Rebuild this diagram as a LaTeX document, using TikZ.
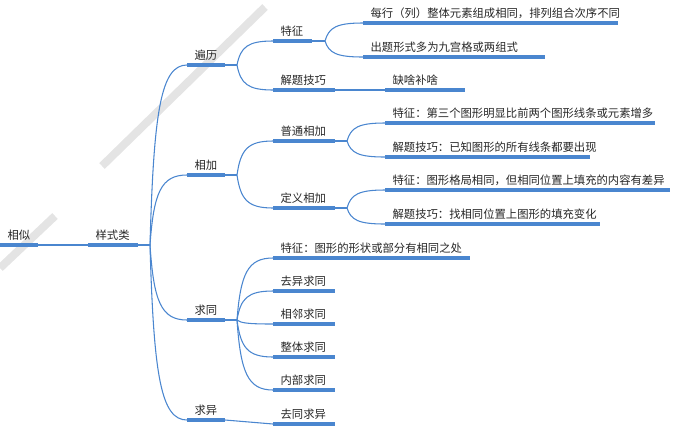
\documentclass[tikz,border=0pt]{standalone}
\usepackage{fontspec}
\setmainfont{Noto Sans CJK SC}
\usetikzlibrary{calc}
\definecolor{bl}{HTML}{4A86CF}
\definecolor{wm}{HTML}{E4E4E4}
\tikzset{thk/.style={bl,line width=2.4pt},thn/.style={bl,line width=0.8pt},lab/.style={anchor=south west,inner sep=1pt,font=\fontsize{8.5pt}{10pt}\selectfont,text=black!85}}
\newcommand\topic[5]{%
 \coordinate (#1s) at (#2,#4); \coordinate (#1e) at (#3,#4);
 \draw[thk] (#1s)--(#1e);
 \node[lab] (#1t) at ($(#1s)+(6,-3)$) {#5};}
\newcommand\fork[2]{\coordinate (#1f) at ($(#1e)+(#2,0)$); \draw[thn] (#1e)--(#1f);}
\newcommand\conn[2]{\draw[thn] let \p1=(#1), \p2=(#2) in (\p1) .. controls (\x1+0.1*\x2-0.1*\x1, \y1+0.75*\y2-0.75*\y1) and (\x1+0.3*\x2-0.3*\x1,\y2) .. (\p2);}
\begin{document}
\begin{tikzpicture}[x=0.75pt,y=-0.75pt]
\useasboundingbox (0,0) rectangle (673,433);
\draw[wm,line width=6pt] (0,268)--(55,216);
\draw[wm,line width=6pt] (102,166)--(265,7);
\topic{A}{0}{38}{245}{相似}
\topic{B}{88}{138}{245}{样式类}
\draw[thn] (Ae)--(Bs);
\fork{B}{12}
\topic{C}{187}{225}{65}{遍历}
\topic{D}{187}{225}{175}{相加}
\topic{E}{187}{225}{320}{求同}
\topic{F}{187}{225}{420}{求异}
\conn{Bf}{Cs}\conn{Bf}{Ds}\conn{Bf}{Es}\conn{Bf}{Fs}
\fork{C}{12}\fork{D}{12}\fork{E}{12}
\topic{C1}{273}{312}{41}{特征}
\topic{C2}{273}{335}{90}{解题技巧}
\conn{Cf}{C1s}\conn{Cf}{C2s}
\fork{C1}{13}
\topic{C11}{363}{618}{23}{每行（列）整体元素组成相同，排列组合次序不同}
\topic{C12}{363}{545}{57}{出题形式多为九宫格或两组式}
\conn{C1f}{C11s}\conn{C1f}{C12s}
\topic{C21}{385}{465}{90}{缺啥补啥}
\draw[thn] (C2e)--(C21s);
\topic{D1}{273}{335}{141}{普通相加}
\topic{D2}{273}{335}{208}{定义相加}
\conn{Df}{D1s}\conn{Df}{D2s}
\fork{D1}{12}\fork{D2}{12}
\topic{D11}{385}{655}{123}{特征：第三个图形明显比前两个图形线条或元素增多}
\topic{D12}{385}{590}{157}{解题技巧：已知图形的所有线条都要出现}
\topic{D21}{385}{670}{190}{特征：图形格局相同，但相同位置上填充的内容有差异}
\topic{D22}{385}{600}{224}{解题技巧：找相同位置上图形的填充变化}
\conn{D1f}{D11s}\conn{D1f}{D12s}\conn{D2f}{D21s}\conn{D2f}{D22s}
\topic{E1}{273}{470}{258}{特征：图形的形状或部分有相同之处}
\topic{E2}{273}{335}{291}{去异求同}
\topic{E3}{273}{335}{324}{相邻求同}
\topic{E4}{273}{335}{357}{整体求同}
\topic{E5}{273}{335}{390}{内部求同}
\conn{Ef}{E1s}\conn{Ef}{E2s}\conn{Ef}{E3s}\conn{Ef}{E4s}\conn{Ef}{E5s}
\topic{F1}{273}{335}{424}{去同求异}
\draw[thn] (Fe)--(F1s);
\end{tikzpicture}
\end{document}
